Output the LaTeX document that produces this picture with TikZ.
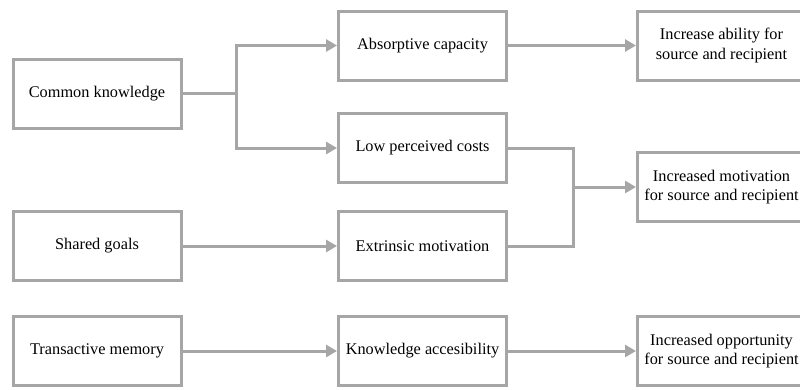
\documentclass[tikz,border=0pt]{standalone}
\usepackage{fontspec}
\setmainfont{Liberation Serif}
\usetikzlibrary{arrows.meta}
\definecolor{boxgray}{HTML}{A6A6A6}
\begin{document}
\begin{tikzpicture}[x=1pt,y=-1pt,
  box/.style={draw=boxgray, line width=3pt, fill=white, rectangle,
    minimum width=168pt, minimum height=69pt, inner sep=2pt, align=center,
    font=\fontsize{16.3}{19.5}\selectfont},
  link/.style={draw=boxgray, line width=3pt, line join=miter},
  arr/.style={link, -{Triangle[length=11pt,width=12pt]}}]
\useasboundingbox (0,0) rectangle (800,389);

% inputs
\node[box] (ck) at (97,93.5) {Common knowledge};
\node[box] (sg) at (97,246) {Shared goals};
\node[box] (tm) at (97,351) {Transactive memory};

% mechanisms
\node[box] (ac) at (422.5,45.5) {Absorptive capacity};
\node[box] (lpc) at (422.5,148) {Low perceived costs};
\node[box] (em) at (422.5,246) {Extrinsic motivation};
\node[box] (ka) at (422.5,351) {Knowledge accesibility};

% outcomes
\node[box] (ia) at (721.5,45.5) {Increase ability for\\source and recipient};
\node[box] (im) at (721.5,187) {Increased motivation\\for source and recipient};
\node[box] (io) at (721.5,351) {Increased opportunity\\for source and recipient};

% branching from common knowledge
\coordinate (j1) at (236,93.5);
\draw[link] (ck.east) -- (j1);
\draw[arr] (j1) |- (ac.west);
\draw[arr] (j1) |- (lpc.west);

% merge into motivation
\coordinate (j2) at (573,187);
\draw[link] (lpc.east) -| (j2);
\draw[link] (em.east) -| (j2);
\draw[arr] (j2) -- (im.west);

% straight links
\draw[arr] (ac.east) -- (ia.west);
\draw[arr] (sg.east) -- (em.west);
\draw[arr] (tm.east) -- (ka.west);
\draw[arr] (ka.east) -- (io.west);
\end{tikzpicture}
\end{document}
